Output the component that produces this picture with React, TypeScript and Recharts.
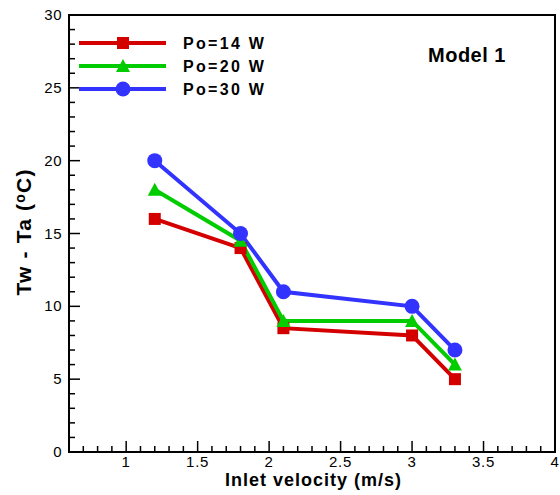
import { Line, LineChart, ReferenceArea, XAxis, YAxis } from 'recharts'

const velocity = [1.2, 1.8, 2.1, 3, 3.3]
const po14 = [16, 14, 8.5, 8, 5]
const po20 = [18, 14.5, 9, 9, 6]
const po30 = [20, 15, 11, 10, 7]

const xMajor = [1, 1.5, 2, 2.5, 3, 3.5, 4]
const xTicks = [0.6, 0.7, 0.8, 0.9, 1, 1.1, 1.2, 1.3, 1.4, 1.5, 1.6, 1.7, 1.8, 1.9, 2, 2.1, 2.2, 2.3, 2.4, 2.5, 2.6, 2.7, 2.8, 2.9, 3, 3.1, 3.2, 3.3, 3.4, 3.5, 3.6, 3.7, 3.8, 3.9, 4]
const yMajor = [0, 5, 10, 15, 20, 25, 30]
const yTicks = [0, 1, 2, 3, 4, 5, 6, 7, 8, 9, 10, 11, 12, 13, 14, 15, 16, 17, 18, 19, 20, 21, 22, 23, 24, 25, 26, 27, 28, 29, 30]

const series = [
  { key: 'po14', name: 'Po=14 W', color: '#d40000', shape: 'square' },
  { key: 'po20', name: 'Po=20 W', color: '#00cc00', shape: 'triangle' },
  { key: 'po30', name: 'Po=30 W', color: '#3333ff', shape: 'circle' },
]

const data = velocity.map((v, i) => ({ v, po14: po14[i], po20: po20[i], po30: po30[i] }))

const FONT = '"Liberation Sans", Arial, sans-serif'

function Marker({ cx, cy, shape, color }: any) {
  if (cx == null || cy == null) return null
  if (shape === 'square') return <rect x={cx - 6} y={cy - 6} width={12} height={12} fill={color} />
  if (shape === 'triangle') return <polygon points={`${cx},${cy - 7} ${cx - 7},${cy + 6} ${cx + 7},${cy + 6}`} fill={color} />
  return <circle cx={cx} cy={cy} r={7.5} fill={color} />
}

function XTick({ x, y, payload }: any) {
  const major = xMajor.includes(payload.value)
  return (
    <g>
      <line x1={x} x2={x} y1={y} y2={y - (major ? 11 : 6)} stroke="#000" strokeWidth={1.5} />
      {major && (
        <text x={x} y={y + 15} textAnchor="middle" fontFamily={FONT} fontSize={15} letterSpacing={0.8} fill="#000">
          {payload.value}
        </text>
      )}
    </g>
  )
}

function YTick({ x, y, payload }: any) {
  const major = yMajor.includes(payload.value)
  return (
    <g>
      <line x1={x} x2={x + (major ? 11 : 6)} y1={y} y2={y} stroke="#000" strokeWidth={1.5} />
      {major && (
        <text x={x - 7} y={y + 5} textAnchor="end" fontFamily={FONT} fontSize={15} letterSpacing={0.5} fill="#000">
          {payload.value}
        </text>
      )}
    </g>
  )
}

function LegendBox() {
  return (
    <svg width={240} height={75}>
      {series.map((s, i) => (
        <g key={s.key}>
          <line x1={0} x2={87} y1={8 + i * 23} y2={8 + i * 23} stroke={s.color} strokeWidth={4} />
          <Marker cx={44} cy={8 + i * 23} shape={s.shape} color={s.color} />
          <text x={104} y={14 + i * 23} fontFamily={FONT} fontWeight="bold" fontSize={16} letterSpacing={2.3} fill="#000">
            {s.name}
          </text>
        </g>
      ))}
    </svg>
  )
}

export default function App() {
  return (
    <div style={{ position: 'absolute', left: 0, top: 0, width: 560, height: 495, background: '#fff' }}>
      <LineChart width={560} height={495} data={data} margin={{ top: 15, right: 5, bottom: 42, left: 68 }}>
        <XAxis
          dataKey="v"
          type="number"
          domain={[0.6, 4]}
          ticks={xTicks}
          interval={0}
          height={1}
          tickSize={0}
          tickMargin={0}
          tickLine={false}
          axisLine={false}
          tick={<XTick />}
          allowDataOverflow
        />
        <YAxis
          type="number"
          domain={[0, 30]}
          ticks={yTicks}
          interval={0}
          width={1}
          tickSize={0}
          tickMargin={0}
          tickLine={false}
          axisLine={false}
          tick={<YTick />}
          allowDataOverflow
        />
        <ReferenceArea x1={0.6} x2={4} y1={0} y2={30} fill="none" stroke="#000" strokeWidth={2} ifOverflow="visible" />
        {series.map((s) => (
          <Line
            key={s.key}
            dataKey={s.key}
            name={s.name}
            stroke={s.color}
            strokeWidth={4}
            isAnimationActive={false}
            dot={(p: any) => <Marker key={`${s.key}-${p.index}`} cx={p.cx} cy={p.cy} shape={s.shape} color={s.color} />}
            activeDot={false}
          />
        ))}
      </LineChart>
      <div style={{ position: 'absolute', left: 79, top: 35 }}>
        <LegendBox />
      </div>
      <div style={{ position: 'absolute', left: 428, top: 44, fontFamily: FONT, fontWeight: 'bold', fontSize: 20, letterSpacing: 0.5, color: '#000', lineHeight: 'normal' }}>
        Model 1
      </div>
      <div
        style={{
          position: 'absolute',
          left: 24,
          top: 232,
          transform: 'translate(-50%, -50%) rotate(-90deg)',
          whiteSpace: 'nowrap',
          fontFamily: FONT,
          fontWeight: 'bold',
          fontSize: 21,
          letterSpacing: 1.2,
          color: '#000',
          lineHeight: 'normal',
        }}
      >
        Tw - Ta (<sup style={{ fontSize: 14, verticalAlign: '0.45em', lineHeight: 0 }}>o</sup>C)
      </div>
      <div
        style={{
          position: 'absolute',
          left: 225,
          top: 470,
          whiteSpace: 'nowrap',
          fontFamily: FONT,
          fontWeight: 'bold',
          fontSize: 18,
          letterSpacing: 1,
          color: '#000',
          lineHeight: 'normal',
        }}
      >
        Inlet velocity (m/s)
      </div>
    </div>
  )
}
